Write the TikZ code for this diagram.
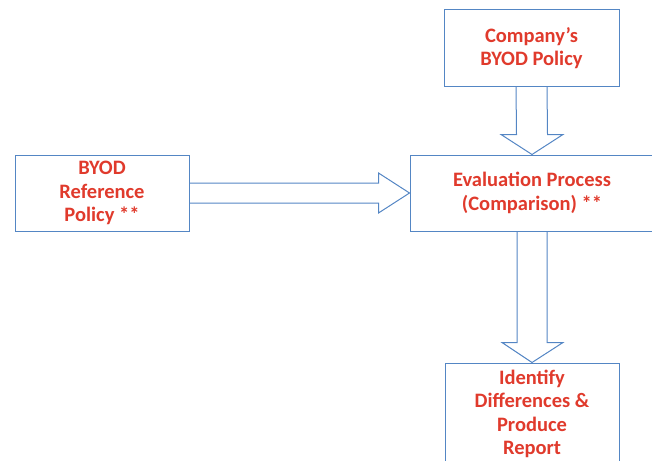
\documentclass[tikz,border=0pt]{standalone}
\usepackage{fontspec}
\setmainfont{Carlito}
\usetikzlibrary{calc}
\definecolor{boxblue}{RGB}{84,134,196}
\definecolor{txtred}{RGB}{224,58,44}
\tikzset{
  stepbox/.style={draw=boxblue,line width=1pt,text=txtred,align=center,
    font=\fontsize{20.5}{23.5}\selectfont\bfseries,inner sep=0pt},
  blockarr/.style={draw=boxblue,line width=1pt,line join=miter}
}
\begin{document}
\begin{tikzpicture}
[x=1pt,y=1pt]
\clip (0,0) rectangle (652,-460);
\node[stepbox,minimum width=175,minimum height=76] (company) at (531.5,-48) {Company’s\\BYOD Policy};
\node[stepbox,minimum width=174,minimum height=76] (byod) at (102,-193) {BYOD\\Reference\\Policy **};
\node[stepbox,minimum width=244,minimum height=76] (eval) at (532,-193) {Evaluation Process\\(Comparison) **};
\node[stepbox,minimum width=174,minimum height=102] (report) at (532,-414) {Identify\\Differences \&\\Produce\\Report};
% company -> evaluation
\draw[blockarr] ($(company.south)+(-15.5,0)$) -- ($(eval.north)+(-15.5,20)$)
  -- ($(eval.north)+(-31,20)$) -- (eval.north) -- ($(eval.north)+(31,20)$)
  -- ($(eval.north)+(15.5,20)$) -- ($(company.south)+(15.5,0)$);
% reference -> evaluation
\draw[blockarr] ($(byod.east)+(0,10)$) -- ($(eval.west)+(-31,10)$)
  -- ($(eval.west)+(-31,20)$) -- (eval.west) -- ($(eval.west)+(-31,-20)$)
  -- ($(eval.west)+(-31,-10)$) -- ($(byod.east)+(0,-10)$);
% evaluation -> report
\draw[blockarr] ($(eval.south)+(-15,0)$) -- ($(report.north)+(-15,20)$)
  -- ($(report.north)+(-30,20)$) -- (report.north) -- ($(report.north)+(31,20)$)
  -- ($(report.north)+(15,20)$) -- ($(eval.south)+(15,0)$);
\end{tikzpicture}
\end{document}
